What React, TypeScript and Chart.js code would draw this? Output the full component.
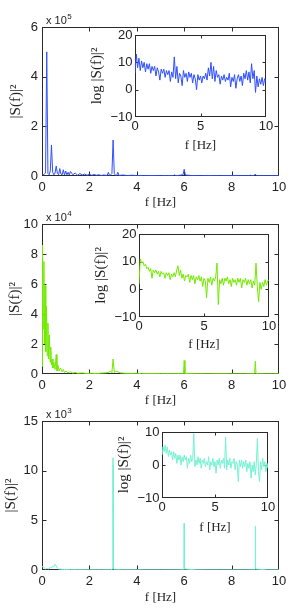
import React, { useEffect, useRef } from 'react';
import { Chart, registerables } from 'chart.js';

Chart.register(...registerables);

// ---------- Main panel 1 (blue), |S(f)|^2 in units of 1e5 ----------
const MAIN1_F = [0, 0.05, 0.1, 0.15, 0.2, 0.25, 0.3, 0.35, 0.4, 0.45, 0.5, 0.55, 0.6, 0.65, 0.7, 0.75, 0.8, 0.85, 0.9, 0.95,
  1.0, 1.05, 1.1, 1.15, 1.2, 1.3, 1.4, 1.5, 1.6, 1.7, 1.8, 1.9, 2.0, 2.1, 2.2, 2.3, 2.4, 2.5, 2.6, 2.7,
  2.75, 2.8, 2.85, 2.9, 2.95, 3.0, 3.05, 3.1, 3.15, 3.2, 3.25, 3.4, 3.6, 3.8, 4.0, 4.3, 4.6, 5.0, 5.3, 5.55,
  5.6, 5.65, 5.8, 5.95, 6.0, 6.05, 6.3, 6.7, 7.0, 7.5, 8.0, 8.5, 8.75, 8.8, 8.85, 8.95, 9.0, 9.05, 9.4, 9.8, 10];
const MAIN1_S = [0.1, 0.05, 0.08, 0.12, 5.0, 0.1, 0.05, 0.2, 1.25, 0.15, 0.05, 0.12, 0.4, 0.1, 0.05, 0.3, 0.08, 0.05, 0.25, 0.04,
  0.2, 0.05, 0.15, 0.04, 0.18, 0.05, 0.12, 0.03, 0.1, 0.04, 0.08, 0.03, 0.07, 0.03, 0.06, 0.03, 0.05, 0.02, 0.04, 0.03,
  0.02, 0.15, 0.02, 0.05, 0.1, 1.45, 0.1, 0.03, 0.02, 0.15, 0.02, 0.04, 0.02, 0.03, 0.02, 0.01, 0.02, 0.01, 0.02, 0.01,
  0.05, 0.01, 0.03, 0.05, 0.27, 0.04, 0.02, 0.01, 0.02, 0.01, 0.02, 0.01, 0.01, 0.03, 0.01, 0.02, 0.08, 0.01, 0.01, 0.01, 0.01];

// ---------- Main panel 2 (green), units of 1e4 ----------
const MAIN2_F = [0, 0.02, 0.05, 0.08, 0.1, 0.13, 0.16, 0.19, 0.22, 0.25, 0.28, 0.31, 0.34, 0.37, 0.4, 0.43, 0.46, 0.5, 0.55, 0.6,
  0.63, 0.67, 0.72, 0.78, 0.85, 0.9, 0.95, 1.0, 1.1, 1.2, 1.3, 1.4, 1.5, 1.7, 1.9, 2.1, 2.3, 2.5, 2.7, 2.8,
  2.9, 2.95, 3.0, 3.05, 3.1, 3.3, 3.5, 3.7, 4.0, 4.2, 4.5, 5.0, 5.5, 5.9, 5.97, 6.0, 6.03, 6.5, 7.0, 7.5,
  8.0, 8.5, 8.97, 9.0, 9.03, 9.5, 10];
const MAIN2_S = [0.5, 8.6, 3.0, 7.5, 2.0, 5.9, 1.5, 4.5, 1.2, 3.4, 1.0, 2.6, 0.8, 1.8, 0.6, 1.0, 0.4, 0.8, 0.3, 1.3,
  0.2, 0.6, 0.2, 0.4, 0.15, 0.3, 0.1, 0.2, 0.08, 0.15, 0.06, 0.1, 0.05, 0.07, 0.03, 0.05, 0.03, 0.06, 0.08, 0.1,
  0.2, 0.1, 1.0, 0.1, 0.2, 0.08, 0.05, 0.04, 0.05, 0.02, 0.03, 0.02, 0.02, 0.02, 0.03, 0.9, 0.03, 0.02, 0.01, 0.02,
  0.01, 0.01, 0.02, 0.85, 0.02, 0.01, 0.01];

// ---------- Main panel 3 (cyan), units of 1e3 ----------
const MAIN3_F = [0, 0.05, 0.1, 0.15, 0.2, 0.3, 0.35, 0.4, 0.45, 0.5, 0.55, 0.6, 0.65, 0.7, 0.8, 0.9, 1.0, 1.2, 1.5, 2.0,
  2.5, 2.9, 2.985, 2.995, 3.0, 3.005, 3.015, 3.1, 3.5, 4.0, 4.5, 5.0, 5.5, 5.95, 5.99, 6.0, 6.005, 6.01, 6.5, 7.0,
  7.5, 8.0, 8.5, 8.95, 8.99, 9.0, 9.005, 9.01, 9.5, 10];
const MAIN3_S = [0.3, 0.35, 0.2, 0.1, 0.15, 0.1, 0.3, 0.2, 0.4, 0.3, 0.6, 0.4, 0.2, 0.1, 0.08, 0.05, 0.05, 0.03, 0.03, 0.02,
  0.02, 0.02, 0.1, 11.3, 6, 10.6, 0.1, 0.03, 0.02, 0.02, 0.01, 0.01, 0.01, 0.02, 0.1, 4.7, 2, 0.1, 0.02, 0.01,
  0.01, 0.01, 0.01, 0.02, 0.1, 4.4, 1.5, 0.1, 0.01, 0.01];

// ---------- Insets: log |S(f)|^2 on a 0.1 Hz grid ----------
const INSET_F = [0, 0.1, 0.2, 0.3, 0.4, 0.5, 0.6, 0.7, 0.8, 0.9,
  1.0, 1.1, 1.2, 1.3, 1.4, 1.5, 1.6, 1.7, 1.8, 1.9,
  2.0, 2.1, 2.2, 2.3, 2.4, 2.5, 2.6, 2.7, 2.8, 2.9,
  3.0, 3.1, 3.2, 3.3, 3.4, 3.5, 3.6, 3.7, 3.8, 3.9,
  4.0, 4.1, 4.2, 4.3, 4.4, 4.5, 4.6, 4.7, 4.8, 4.9,
  5.0, 5.1, 5.2, 5.3, 5.4, 5.5, 5.6, 5.7, 5.8, 5.9,
  6.0, 6.1, 6.2, 6.3, 6.4, 6.5, 6.6, 6.7, 6.8, 6.9,
  7.0, 7.1, 7.2, 7.3, 7.4, 7.5, 7.6, 7.7, 7.8, 7.9,
  8.0, 8.1, 8.2, 8.3, 8.4, 8.5, 8.6, 8.7, 8.8, 8.9,
  9.0, 9.1, 9.2, 9.3, 9.4, 9.5, 9.6, 9.7, 9.8, 9.9, 10];

const INSET1_LOG = [6, 13, 8, 11.5, 7, 10.5, 8, 10, 6.5, 9.5,
  7.5, 9.5, 6, 8.5, 7, 8.5, 5, 8, 6.5, 3.5,
  7.5, 6, 7.5, 4.5, 7, 5.5, 7, 3, 6.5, 4.5,
  12, 4, 8.5, 2.5, 6, 5, 1.5, 7, 4.5, 6,
  3, 6.5, 4.5, 6, 2.5, 5.5, 4, 0, 5.5, 3.5,
  5, 2.5, 5, 4, 6, 3.5, 8, 5, 10, 4,
  8.5, 3, 7, 4.5, 5.5, 2, 5, 3.5, 5.5, 3,
  4.5, 3.5, 6, 1, 4.5, 3, 5.5, 0.5, 4, 5.5,
  3, 5, 1.5, 6, 4, 7, 3.5, 6.5, 2.5, 9.5,
  4, 7, -1, 5, 1, 4, 2, 4.5, 1.5, 4, 3];

const INSET2_LOG = [2, 11, 9.5, 10, 8.5, 9, 7.5, 8, 6.5, 7.5,
  4, 7, 6, 7, 5.5, 6.5, 4.5, 6.5, 5.5, 6,
  4, 6, 5, 6, 3.5, 5.5, 4.5, 6, 4.5, 7,
  8.5, 5, 7, 4, 5.5, 3, 5, 4.5, 5.5, 2.5,
  5, 3.5, 5, 2, 4.5, 3.5, 5, 3, 4.5, 1,
  4, 3, -3, 4, 2.5, 4.5, 1.5, 4, 3, 4.5,
  9.5, -5.5, 3.5, 2, 4, 1.5, 4, 3, 4.5, 2,
  3.5, 1, 4, 2.5, 3.5, 1.5, 4, 2.5, 4, 0.5,
  3.5, 2.5, 4, 1.5, 3.5, 2, 3.5, 0.5, 3, 1.5,
  9.5, 1, -4.5, 2.5, 0, 2.5, 1, 3.5, 1.5, 3, 3.5];

const INSET3_LOG = [3, 5.5, 4, 6, 3.5, 5.5, 2.5, 4.5, 3, 4,
  1.5, 4, 2, 3.5, 0.5, 3, 1.5, 3, 0, 2.5,
  1, 3, 1.5, 2.5, -1, 2, 0.5, 3, 1, 2,
  9.5, -0.5, 1.5, 0, 2.5, 0.5, 2, -1, 1.5, 0.5,
  2, -0.5, 1, 0, 2.5, -1.5, 1, 0, 2, -0.5,
  1, -2.5, 1.5, 0, 2, -1, 1.5, 0.5, 2, -1,
  8.5, -1.5, 1.5, 0, 2, -1, 1, 0.5, 2, -1.5,
  1, 0, -5, 1.5, -0.5, 1.5, -1, 1, -0.5, 1.5,
  -2, 0.5, -1, 1, -4, 0, -2, 1, -3, 0.5,
  8, -2, -5, 1, -1.5, 2, -0.5, 1, -2, 0.5, -1];

const X_TITLE = 'f [Hz]';
const MAIN_Y_TITLE = '|S(f)|\u00B2';
const INSET_Y_TITLE = 'log |S(f)|\u00B2';

const BLUE = '#2f4fff';
const GREEN = '#72ea00';
const CYAN = '#74f2d2';

const PAGE_W = 291;
const PAGE_H = 609;
const SANS = '"Liberation Sans", Arial, Helvetica, sans-serif';
const SERIF = '"Liberation Serif", "Times New Roman", serif';
const X_TITLE_SIZE = 13;
const Y_TITLE_SIZE = 15;
const TICK_SIZE = 13;
const X_LH = X_TITLE_SIZE * 1.2;
const Y_LH = Y_TITLE_SIZE * 1.2;
const INK = '#222';

type Panel = {
  f: number[]; s: number[]; color: string;
  L: number; T: number; R: number; B: number;
  xStep: number; yMin: number; yMax: number; yStep: number;
  yTitle: string; yTitleX: number; xTitleY: number;
  tickPad: number; exp?: string; inset: boolean;
};

const PANELS: Panel[] = [
  { f: MAIN1_F, s: MAIN1_S, color: BLUE, L: 42, T: 27, R: 279, B: 176, xStep: 2, yMin: 0, yMax: 6, yStep: 2,
    yTitle: MAIN_Y_TITLE, yTitleX: 16, xTitleY: 203, tickPad: 4, exp: '5', inset: false },
  { f: INSET_F, s: INSET1_LOG, color: BLUE, L: 135, T: 35, R: 266, B: 117, xStep: 5, yMin: -10, yMax: 20, yStep: 10,
    yTitle: INSET_Y_TITLE, yTitleX: 97, xTitleY: 146, tickPad: 2.5, inset: true },
  { f: MAIN2_F, s: MAIN2_S, color: GREEN, L: 42, T: 224, R: 279, B: 374, xStep: 2, yMin: 0, yMax: 10, yStep: 2,
    yTitle: MAIN_Y_TITLE, yTitleX: 15, xTitleY: 401, tickPad: 4, exp: '4', inset: false },
  { f: INSET_F, s: INSET2_LOG, color: GREEN, L: 139, T: 234, R: 269, B: 317, xStep: 5, yMin: -10, yMax: 20, yStep: 10,
    yTitle: INSET_Y_TITLE, yTitleX: 101, xTitleY: 345, tickPad: 2.5, inset: true },
  { f: MAIN3_F, s: MAIN3_S, color: CYAN, L: 42, T: 421, R: 279, B: 570, xStep: 2, yMin: 0, yMax: 15, yStep: 5,
    yTitle: MAIN_Y_TITLE, yTitleX: 11, xTitleY: 597.5, tickPad: 4, exp: '3', inset: false },
  { f: INSET_F, s: INSET3_LOG, color: CYAN, L: 162, T: 432, R: 268, B: 498, xStep: 5, yMin: -10, yMax: 10, yStep: 10,
    yTitle: INSET_Y_TITLE, yTitleX: 124, xTitleY: 528, tickPad: 2.5, inset: true },
];

function fmt(v: number | string) {
  const n = Number(v);
  return n < 0 ? '\u2212' + Math.abs(n) : String(n);
}

function buildChart(canvas: HTMLCanvasElement, p: Panel) {
  const padLeft = p.yTitleX - Y_LH / 2;
  const yW = p.L - padLeft;
  const xH = p.xTitleY + X_LH / 2 - p.B;

  const framePlugin = {
    id: 'frame' + p.L + '_' + p.T,
    beforeDraw(chart: any) {
      if (!p.inset) return;
      const { ctx, chartArea } = chart;
      ctx.save();
      ctx.fillStyle = '#ffffff';
      ctx.fillRect(chartArea.left, chartArea.top, chartArea.right - chartArea.left, chartArea.bottom - chartArea.top);
      ctx.restore();
    },
    beforeDatasetsDraw(chart: any) {
      const { ctx, chartArea } = chart;
      const l = Math.round(chartArea.left) + 0.5;
      const t = Math.round(chartArea.top) + 0.5;
      const r = Math.round(chartArea.right) - 0.5;
      const b = Math.round(chartArea.bottom) - 0.5;
      const len = p.inset ? 3 : 4;
      ctx.save();
      ctx.strokeStyle = '#2a2a2a';
      ctx.lineWidth = 1;
      ctx.strokeRect(l, t, r - l, b - t);
      ctx.beginPath();
      const xs = chart.scales.x;
      const ys = chart.scales.y;
      xs.ticks.forEach((tk: any) => {
        const px = Math.round(xs.getPixelForValue(tk.value)) + 0.5;
        if (px <= l + 1 || px >= r - 1) return;
        ctx.moveTo(px, b); ctx.lineTo(px, b - len);
        ctx.moveTo(px, t); ctx.lineTo(px, t + len);
      });
      ys.ticks.forEach((tk: any) => {
        const py = Math.round(ys.getPixelForValue(tk.value)) + 0.5;
        if (py <= t + 1 || py >= b - 1) return;
        ctx.moveTo(l, py); ctx.lineTo(l + len, py);
        ctx.moveTo(r, py); ctx.lineTo(r - len, py);
      });
      ctx.stroke();
      ctx.restore();
    },
    afterDraw(chart: any) {
      if (!p.exp) return;
      const { ctx, chartArea } = chart;
      ctx.save();
      ctx.fillStyle = INK;
      ctx.textBaseline = 'middle';
      ctx.textAlign = 'left';
      ctx.font = '11px ' + SANS;
      const x0 = chartArea.left + 4;
      const y0 = chartArea.top - 6;
      ctx.fillText('x 10', x0, y0);
      const w = ctx.measureText('x 10').width;
      ctx.font = '8px ' + SANS;
      ctx.fillText(p.exp, x0 + w + 0.5, y0 - 4.5);
      ctx.restore();
    },
  };

  return new Chart(canvas, {
    type: 'line',
    data: {
      datasets: [{
        data: p.f.map((x, i) => ({ x, y: p.s[i] })),
        borderColor: p.color,
        borderWidth: 1,
        pointRadius: 0,
        fill: false,
        tension: 0,
      }],
    },
    options: {
      responsive: false,
      maintainAspectRatio: false,
      animation: false,
      devicePixelRatio: 1,
      events: [],
      layout: {
        padding: { left: padLeft, top: p.T, right: PAGE_W - p.R, bottom: PAGE_H - p.B - xH },
      },
      plugins: {
        legend: { display: false },
        tooltip: { enabled: false },
        title: { display: false },
      },
      scales: {
        x: {
          type: 'linear',
          min: 0,
          max: 10,
          ticks: {
            stepSize: p.xStep,
            autoSkip: false,
            maxRotation: 0,
            padding: p.inset ? 2 : 4,
            color: INK,
            font: { family: SANS, size: TICK_SIZE },
            callback: (v: any) => fmt(v),
          },
          grid: { display: false, drawTicks: false },
          border: { display: false },
          title: {
            display: true,
            text: X_TITLE,
            color: INK,
            padding: 0,
            font: { family: SERIF, size: X_TITLE_SIZE, lineHeight: 1.2 },
          },
          afterFit: (s: any) => { s.height = xH; },
        },
        y: {
          type: 'linear',
          min: p.yMin,
          max: p.yMax,
          ticks: {
            stepSize: p.yStep,
            autoSkip: false,
            padding: p.tickPad,
            color: INK,
            font: { family: SANS, size: TICK_SIZE },
            callback: (v: any) => fmt(v),
          },
          grid: { display: false, drawTicks: false },
          border: { display: false },
          title: {
            display: true,
            text: p.yTitle,
            color: INK,
            padding: 0,
            font: { family: SERIF, size: Y_TITLE_SIZE, lineHeight: 1.2 },
          },
          afterFit: (s: any) => { s.width = yW; },
        },
      },
    },
    plugins: [framePlugin],
  } as any);
}

export default function App() {
  const refs = useRef<(HTMLCanvasElement | null)[]>([]);
  useEffect(() => {
    const charts = PANELS.map((p, i) => buildChart(refs.current[i] as HTMLCanvasElement, p));
    return () => charts.forEach((c) => c.destroy());
  }, []);
  return (
    <div style={{ position: 'absolute', left: 0, top: 0, width: PAGE_W, height: PAGE_H, background: '#ffffff' }}>
      {PANELS.map((_, i) => (
        <canvas
          key={i}
          ref={(el) => { refs.current[i] = el; }}
          width={PAGE_W}
          height={PAGE_H}
          style={{ position: 'absolute', left: 0, top: 0, width: PAGE_W, height: PAGE_H }}
        />
      ))}
    </div>
  );
}
